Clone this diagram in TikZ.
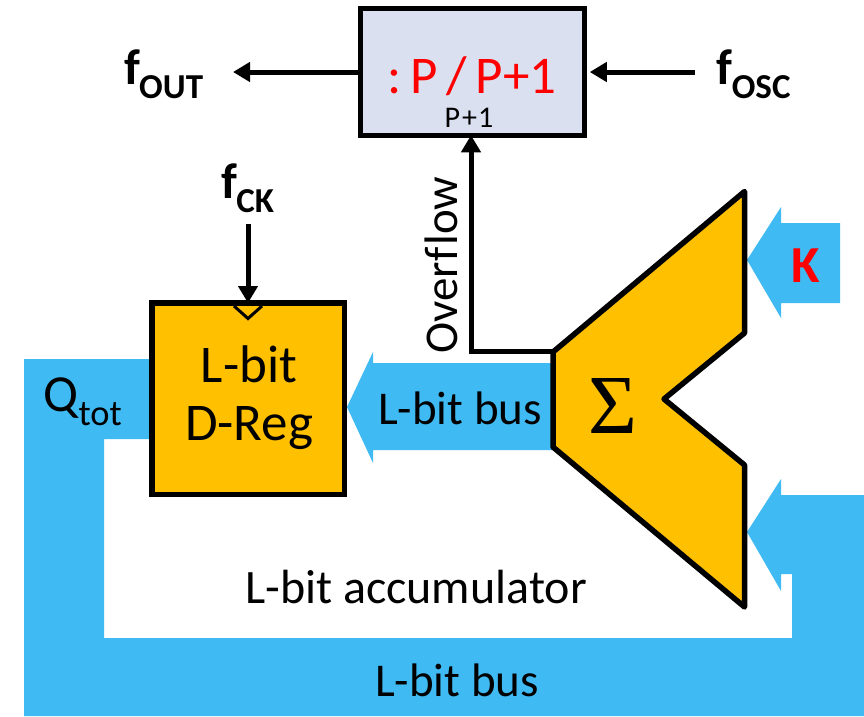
\documentclass[tikz,border=0pt]{standalone}
\usepackage{fontspec}
\setmainfont{Carlito}
\newfontfamily\sigmafont{Liberation Serif}
\usepackage{tikz}
\usetikzlibrary{arrows.meta}
\definecolor{busblue}{HTML}{3FBAF2}
\definecolor{regorange}{HTML}{FFC000}
\definecolor{divblue}{HTML}{DAE0F0}
\tikzset{
  block/.style={draw=black, line width=5.5pt, inner sep=0pt},
  wire/.style={draw=black, line width=5pt, -{Triangle[length=17pt,width=19pt]}},
  sizedtext/.style={inner sep=0pt, font=\fontsize{#1}{#1}\selectfont},
}
\begin{document}
\begin{tikzpicture}[x=1pt, y=-1pt]
      \useasboundingbox (0,0) rectangle (864,716);

      % blue buses
      \fill[busblue] (24,359) -- (150,359) -- (150,439) -- (104,439) -- (104,638)
        -- (792,638) -- (792,574) -- (781,574) -- (781,591) -- (747,532) -- (781,479)
        -- (781,495) -- (864,495) -- (864,716) -- (24,716) -- cycle;
      \fill[busblue] (347,407) -- (373,352) -- (373,363) -- (553,363) -- (553,450)
        -- (373,450) -- (373,463) -- cycle;
      \fill[busblue] (747,260) -- (781,207) -- (781,223) -- (840,223) -- (840,303)
        -- (781,303) -- (781,318) -- cycle;

      % blocks
      \node[block, fill=divblue, minimum width=224pt, minimum height=127pt] (divider) at (472.5,72) {};
      \node[block, fill=regorange, minimum width=192.5pt, minimum height=191.5pt] (dreg) at (248,398.5) {};
      \draw[black, line width=5.5pt, line join=round, fill=regorange]
        (553,352) -- (744.5,191.5) -- (744.5,333) -- (664,399) -- (744.5,465)
        -- (744.5,607) -- (553,447) -- cycle;
      \coordinate (sumcorner) at (553,351);
      \draw[black, line width=3pt, fill=regorange] (234,306) -- (248,318.5) -- (262,306);

      % wires
      \coordinate (outend) at (233,72);
      \coordinate (oscend) at (695,72);
      \coordinate (ckend) at (248,224);
      \draw[wire] (divider.west) -- (outend);
      \draw[wire] (oscend) -- ([xshift=2.5pt]divider.east);
      \draw[wire] (ckend) -- ([yshift=-3pt]dreg.north);
      \draw[wire] (sumcorner) -| ([xshift=-1.5pt,yshift=3pt]divider.south);

      % labels
      \node[sizedtext=53, text=red] (ratio) at (472,76) {:\,P\,/\,P+1};
      \node[sizedtext=30] (ovfinc) at (469,118) {P\kern2pt+\kern1pt1};
      \node[sizedtext=53, align=center, execute at begin node={\baselineskip=58pt}] (dregtext) at (249,398) {L-bit\\D-Reg};
      \node[sizedtext=47] (bustop) at (460,408) {L-bit bus};
      \node[sizedtext=47] (busbot) at (457,680) {L-bit bus};
      \node[sizedtext=48] (accum) at (416,587) {L-bit accumulator};
      \node[sizedtext=47, rotate=90] (ovf) at (441,265) {Overf\kern2pt low};
      \node[sizedtext=52, text=red] (kay) at (806,266) {\textbf{K}};
      \node[sizedtext=84] (sigma) at (613,406) {\sigmafont Σ};
      \node[sizedtext=52] (qtot) at (83,402) {Q\textsubscript{tot}};
      \node[sizedtext=50] (fout) at (164,74) {\textbf{f\textsubscript{\kern-1pt OUT}}};
      \node[sizedtext=50] (fosc) at (754,74) {\textbf{f\textsubscript{\kern-1pt OSC}}};
      \node[sizedtext=50] (fck) at (248,188) {\textbf{f\textsubscript{\kern-1pt CK}}};
\end{tikzpicture}
\end{document}
